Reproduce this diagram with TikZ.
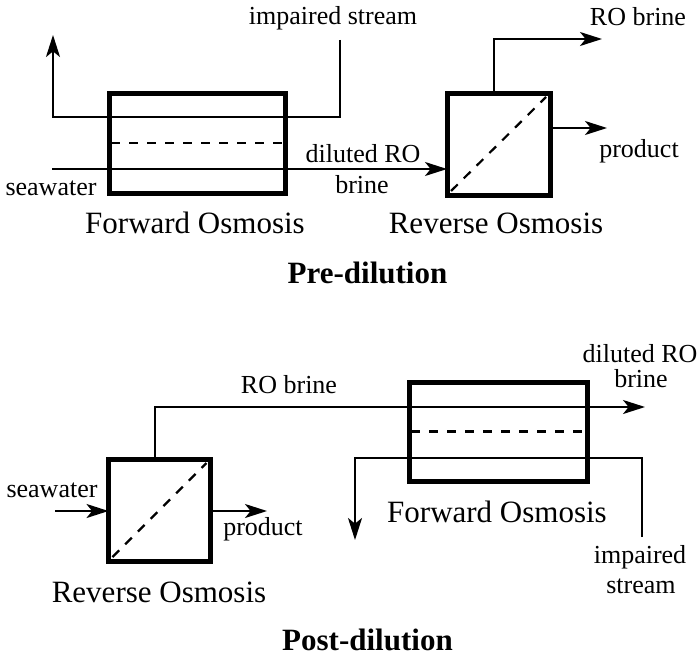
\documentclass[tikz,border=0pt]{standalone}
\usepackage{fontspec}
\setmainfont{Liberation Serif}
\usetikzlibrary{arrows.meta}
\begin{document}
\begin{tikzpicture}[x=0.5pt,y=-0.5pt,
  unit/.style={draw,line width=2.5pt,inner sep=0pt,outer sep=0pt},
  flow/.style={line width=1pt},
  arr/.style={flow,-{Stealth[length=11pt,width=7pt,inset=2.8pt]}},
  membrane/.style={line width=1.1pt,dash pattern=on 4.7pt off 4.3pt},
  lbl/.style={font=\fontsize{13}{15}\selectfont,inner sep=0pt,anchor=base},
  uname/.style={font=\fontsize{15.5}{18}\selectfont,inner sep=0pt,anchor=base},
  ttl/.style={font=\fontsize{15.5}{18}\selectfont\bfseries,inner sep=0pt,anchor=base}]
\useasboundingbox (0,0) rectangle (699,658);

% ---------------- Pre-dilution ----------------
\node[unit,minimum width=88pt,minimum height=50pt] (fo1) at (197,143) {};
\node[unit,minimum width=51.5pt,minimum height=51pt] (ro1) at (498.5,144) {};

\coordinate (imp1a) at (340,40);
\coordinate (imp1b) at (340,117);
\coordinate (imp1c) at (53,117);
\coordinate (imp1d) at (53,35);
\draw[arr] (imp1a) -- (imp1b) -- (imp1c) -- (imp1d);

\coordinate (sw1) at (52,169);
\draw[arr] (sw1) -- (sw1 -| ro1.west);

\draw[membrane] ([xshift=1pt]fo1.west) -- ([xshift=-1pt]fo1.east);
\draw[membrane] ([shift={(4,-4)}]ro1.south west) -- ([shift={(-4,4)}]ro1.north east);

\coordinate (br1a) at (494,39);
\coordinate (br1b) at (602,39);
\draw[arr] (br1a |- ro1.north) -- (br1a) -- (br1b);

\coordinate (pr1) at (607,128);
\draw[arr] (pr1 -| ro1.east) -- (pr1);

\node[lbl] (limp1) at (333,25) {impaired stream};
\node[lbl] (lbr1) at (638,26) {RO brine};
\node[lbl] (lsw1) at (51,195) {seawater};
\node[lbl] (ldil1) at (363,162) {diluted RO};
\node[lbl] (ldil1b) at (362,193) {brine};
\node[lbl] (lpr1) at (639,157) {product};
\node[uname] (nfo1) at (195,233) {Forward Osmosis};
\node[uname] (nro1) at (496,233) {Reverse Osmosis};
\node[ttl] (t1) at (367.5,283) {Pre-dilution};

% ---------------- Post-dilution ----------------
\node[unit,minimum width=51pt,minimum height=51pt] (ro2) at (159.5,510) {};
\node[unit,minimum width=89pt,minimum height=49.5pt] (fo2) at (498,431.5) {};

\coordinate (br2a) at (155,407);
\coordinate (br2b) at (645,407);
\draw[arr] (br2a |- ro2.north) -- (br2a) -- (br2b);

\coordinate (sw2) at (55,511);
\draw[arr] (sw2) -- (sw2 -| ro2.west);

\coordinate (pr2) at (267,511);
\draw[arr] (pr2 -| ro2.east) -- (pr2);

\draw[membrane] ([shift={(4,-4)}]ro2.south west) -- ([shift={(-4,4)}]ro2.north east);
\draw[membrane] ([xshift=1pt]fo2.west) -- ([xshift=-1pt]fo2.east);

\coordinate (imp2a) at (642,537);
\coordinate (imp2b) at (642,458);
\coordinate (imp2c) at (355,458);
\coordinate (imp2d) at (355,540);
\draw[arr] (imp2a) -- (imp2b) -- (imp2c) -- (imp2d);

\node[lbl] (lbr2) at (289,393) {RO brine};
\node[lbl] (lsw2) at (52,497) {seawater};
\node[lbl] (lpr2) at (263,535) {product};
\node[lbl] (ldil2) at (640,362) {diluted RO};
\node[lbl] (ldil2b) at (641,387) {brine};
\node[lbl] (limp2) at (640,563) {impaired};
\node[lbl] (limp2b) at (641,593) {stream};
\node[uname] (nro2) at (159,602) {Reverse Osmosis};
\node[uname] (nfo2) at (497,522) {Forward Osmosis};
\node[ttl] (t2) at (367.5,650) {Post-dilution};
\end{tikzpicture}
\end{document}
